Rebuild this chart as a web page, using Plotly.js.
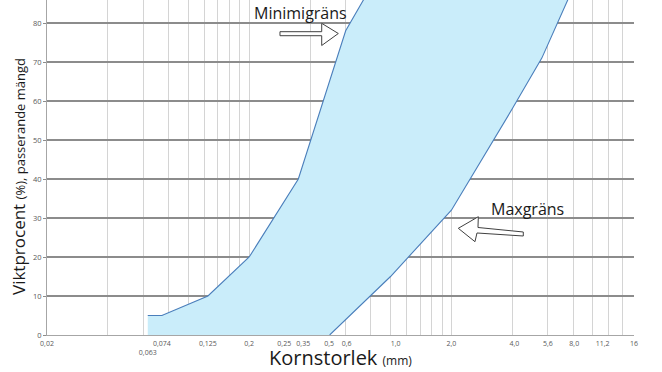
<!DOCTYPE html>
<html>
<head>
<meta charset="utf-8">
<script src="https://cdn.plot.ly/plotly-3.0.1.min.js"></script>
<style>
html,body{margin:0;padding:0;background:#fff;}
#chart{width:662px;height:372px;}
</style>
</head>
<body>
<div id="chart"></div>
<script>
// Data (grain size in mm, percent passing)
const minSize = [0.063, 0.074, 0.125, 0.2, 0.35, 0.6, 1.0];
const minPass = [5, 5, 10, 20, 40, 78, 98];
const maxSize = [0.5, 1.0, 2.0, 4.0, 5.6, 8.0, 11.2];
const maxPass = [0, 15, 32, 58, 71, 89, 100];

// Axis tick labels (Swedish decimal comma) and where they sit on the axis
const tickLabels = ["0,02", " <br>0,063", "0,074", "0,125", "0,2", "0,25", "0,35", "0,5", "0,6", "1,0", "2,0", "4,0", "5,6", "8,0", "11,2", "16"];
const tickPos    = [0.02, 0.063, 0.074, 0.125, 0.2, 0.298, 0.37, 0.497, 0.607, 1.06, 2.0, 4.1, 6.0, 8.1, 11.2, 16];
// Vertical grid lines
const gridPos = [0.02,0.04,0.06,0.08,0.1,0.12,0.14,0.16,0.18,
                 0.2,0.4,0.6,0.8,1.0,1.2,1.4,1.6,1.8,
                 2,4,6,8,10,12,14,16];
const yTicks = [0,10,20,30,40,50,60,70,80];

const lineColor = 'rgb(74,126,187)';
const fillColor = 'rgb(202,237,250)';

const fillX = minSize.concat(maxSize.slice().reverse(), [minSize[0]]);
const fillY = minPass.concat(maxPass.slice().reverse(), [0]);

const xr = [Math.log10(0.02), Math.log10(16)];

const traces = [
  {x: fillX, y: fillY, mode: 'none', fill: 'toself', fillcolor: fillColor,
   hoverinfo: 'skip', showlegend: false, xaxis: 'x', yaxis: 'y'},
  {x: minSize, y: minPass, mode: 'lines', line: {color: lineColor, width: 1.1},
   showlegend: false, xaxis: 'x', yaxis: 'y'},
  {x: maxSize, y: maxPass, mode: 'lines', line: {color: lineColor, width: 1.1},
   showlegend: false, xaxis: 'x2', yaxis: 'y'}
];

function px(p){return (p-47)/587;}
function py(p){return (335-p)/335;}
function pathOf(pts){return 'M ' + pts.map(p=>px(p[0]).toFixed(4)+','+py(p[1]).toFixed(4)).join(' L ') + ' Z';}

const minArrow = pathOf([[280,31.7],[321.7,31.7],[321.7,23.3],[338.3,33.5],[321.7,45.5],[321.7,35.7],[280,35.7]]);
const maxArrow = pathOf([[458.3,228.3],[478.3,216.7],[478,227.5],[523.3,232],[523.3,236],[477,233],[475,241.7]]);

const layout = {
  width: 662, height: 372,
  margin: {l: 47, r: 28, t: 0, b: 37, pad: 0},
  paper_bgcolor: '#ffffff', plot_bgcolor: '#ffffff',
  font: {family: 'Open Sans, sans-serif', color: '#595959'},
  xaxis: {
    type: 'log', range: xr, tickmode: 'array', tickvals: gridPos,
    showticklabels: false, ticks: '', showgrid: true, gridcolor: '#d4d4d4', gridwidth: 1,
    showline: true, linecolor: '#a6a6a6', linewidth: 1, zeroline: false,
    automargin: false
  },
  xaxis2: {
    type: 'log', range: xr, overlaying: 'x', side: 'bottom', tickmode: 'array',
    tickvals: tickPos, ticktext: tickLabels, showgrid: false, ticks: '', tickangle: 0,
    tickfont: {size: 7, color: '#595959'}, showline: false, zeroline: false,
    automargin: false, ticklabelstandoff: 3
  },
  yaxis: {
    range: [0, 85.9], tickmode: 'array', tickvals: yTicks,
    showgrid: true, gridcolor: '#8c8c8c', gridwidth: 1.5,
    ticks: 'outside', ticklen: 3, tickcolor: '#8c8c8c',
    tickfont: {size: 7.5, color: '#595959'},
    showline: true, linecolor: '#a6a6a6', linewidth: 1, zeroline: false,
    automargin: false
  },
  shapes: [
    {type: 'path', xref: 'paper', yref: 'paper', path: minArrow,
     line: {color: '#404040', width: 1}, fillcolor: '#ffffff', layer: 'above'},
    {type: 'path', xref: 'paper', yref: 'paper', path: maxArrow,
     line: {color: '#404040', width: 1}, fillcolor: '#ffffff', layer: 'above'}
  ],
  annotations: [
    {text: 'Minimigräns', xref: 'paper', yref: 'paper', x: px(300), y: py(12.7),
     xanchor: 'center', yanchor: 'middle',
     showarrow: false, font: {size: 16, color: '#1a1a1a'}},
    {text: 'Maxgräns', xref: 'paper', yref: 'paper', x: px(527), y: py(209),
     xanchor: 'center', yanchor: 'middle',
     showarrow: false, font: {size: 16, color: '#1a1a1a'}},
    {text: 'Kornstorlek <span style="font-size:12px">(mm)</span>',
     xref: 'paper', yref: 'paper', x: px(340), y: py(372), borderpad: 0,
     xanchor: 'center', yanchor: 'bottom', showarrow: false,
     font: {size: 20, color: '#1a1a1a'}},
    {text: 'Viktprocent <span style="font-size:13px">(%), passerande mängd</span>',
     xref: 'paper', yref: 'paper', x: px(18), y: py(177),
     xanchor: 'center', yanchor: 'middle', textangle: -90, showarrow: false,
     font: {size: 17, color: '#1a1a1a'}}
  ],
  showlegend: false
};

Plotly.newPlot('chart', traces, layout, {displayModeBar: false, staticPlot: true});
</script>
</body>
</html>
